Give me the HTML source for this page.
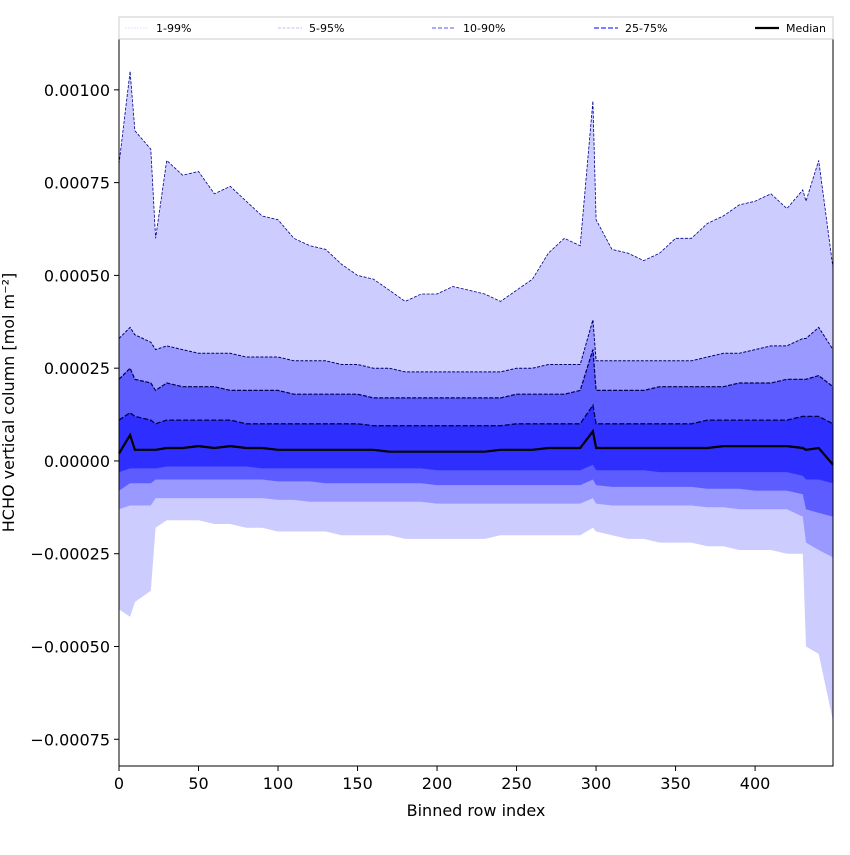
<!DOCTYPE html>
<html><head><meta charset="utf-8"><style>
body{margin:0;background:#fff;}
svg text{font-family:"DejaVu Sans","Liberation Sans",sans-serif;}
</style></head><body>
<svg id="chart" width="850" height="850" xmlns="http://www.w3.org/2000/svg">
<g id="bands"></g>
<g id="lines"></g>
<g id="axes"></g>
<g id="legend"></g>
</svg>
<script>
// Data (values in units of 1e-5 mol m^-2)
const rows=[0,7,10,20,23,30,40,50,60,70,80,90,100,110,120,130,140,150,160,170,180,190,200,210,220,230,240,250,260,270,280,290,298,300,310,320,330,340,350,360,370,380,390,400,410,420,430,432,440,449];
const p99=[80,105,89,84,60,81,77,78,72,74,70,66,65,60,58,57,53,50,49,46,43,45,45,47,46,45,43,46,49,56,60,58,97,65,57,56,54,56,60,60,64,66,69,70,72,68,73,70,81,52];
const p95=[33,36,34,32,30,31,30,29,29,29,28,28,28,27,27,27,26,26,25,25,24,24,24,24,24,24,24,25,25,26,26,26,38,27,27,27,27,27,27,27,28,29,29,30,31,31,33,33,36,30];
const p90=[22,25,22,21,19,21,20,20,20,19,19,19,19,18,18,18,18,18,17,17,17,17,17,17,17,17,17,18,18,18,18,19,30,19,19,19,19,20,20,20,20,20,21,21,21,22,22,22,23,20];
const p75=[11,13,12,11,10,11,11,11,11,11,10,10,10,10,10,10,10,10,9.5,9.5,9.5,9.5,9.5,9.5,9.5,9.5,9.5,10,10,10,10,10,15,10,10,10,10,10,10,10,11,11,11,11,11,11,12,12,12,10];
const p50=[2,7,3,3,3,3.5,3.5,4,3.5,4,3.5,3.5,3,3,3,3,3,3,3,2.5,2.5,2.5,2.5,2.5,2.5,2.5,3,3,3,3.5,3.5,3.5,8,3.5,3.5,3.5,3.5,3.5,3.5,3.5,3.5,4,4,4,4,4,3.5,3,3.5,-1];
const p25=[-3,-2,-2,-2,-2,-1.5,-1.5,-1.5,-1.5,-1.5,-1.5,-2,-2,-2,-2,-2,-2,-2,-2,-2,-2,-2,-2.5,-2.5,-2.5,-2.5,-2.5,-2.5,-2.5,-2.5,-2.5,-2.5,-1,-2.5,-2.5,-2.5,-2.5,-3,-3,-3,-3,-3,-3,-3,-3,-3,-4,-5,-5,-6];
const p10=[-8,-6,-6,-6,-5,-5,-5,-5,-5,-5,-5,-5,-5.5,-5.5,-5.5,-6,-6,-6,-6,-6,-6,-6,-6.5,-6.5,-6.5,-6.5,-6.5,-6.5,-6.5,-6.5,-6.5,-6.5,-5,-6.5,-7,-7,-7,-7,-7,-7,-7.5,-7.5,-7.5,-8,-8,-8,-9,-13,-14,-15];
const p5=[-13,-12,-12,-12,-10,-10,-10,-10,-10,-10,-10,-10,-10.5,-10.5,-11,-11,-11,-11,-11,-11,-11,-11,-11.5,-11.5,-11.5,-11.5,-11.5,-11.5,-11.5,-11.5,-11.5,-11.5,-10,-11.5,-12,-12,-12,-12,-12,-12,-12.5,-12.5,-13,-13,-13,-13,-15,-22,-24,-26];
const p1=[-40,-42,-38,-35,-18,-16,-16,-16,-17,-17,-18,-18,-19,-19,-19,-19,-20,-20,-20,-20,-21,-21,-21,-21,-21,-21,-20,-20,-20,-20,-20,-20,-18,-19,-20,-21,-21,-22,-22,-22,-23,-23,-24,-24,-24,-25,-25,-50,-52,-70];
const xTicks=[0,50,100,150,200,250,300,350,400];
const yTicks=[-0.00075,-0.0005,-0.00025,0,0.00025,0.0005,0.00075,0.001];
const yTickLabels=["\u22120.00075","\u22120.00050","\u22120.00025","0.00000","0.00025","0.00050","0.00075","0.00100"];
const legendLabels=["1-99%","5-95%","10-90%","25-75%","Median"];

const L=119,R=833,T=39,B=766;
const xMin=0,xMax=449,yMin=-0.000822,yMax=0.001137;
const sx=v=>L+(v-xMin)/(xMax-xMin)*(R-L);
const sy=v=>B-(v-yMin)/(yMax-yMin)*(B-T);
const val=v=>v*1e-5;
const NS="http://www.w3.org/2000/svg";
function mk(tag,parent,attrs){const e=document.createElementNS(NS,tag);for(const k in attrs)e.setAttribute(k,attrs[k]);parent.appendChild(e);return e;}
function linePts(arr){return rows.map((r,i)=>sx(r).toFixed(1)+","+sy(val(arr[i])).toFixed(1));}
function band(lo,hi,color,name){
  const pts=linePts(hi).concat(linePts(lo).reverse());
  const p=mk("polygon",document.getElementById("bands"),{points:pts.join(" "),fill:color,stroke:"none"});
  
  
}
band(p1,p99,"#ccccff","band-1-99");
band(p5,p95,"#9999ff","band-5-95");
band(p10,p90,"#5c5cff","band-10-90");
band(p25,p75,"#2e2eff","band-25-75");
function line(arr,color,w,dash,name){
  const p=mk("polyline",document.getElementById("lines"),{points:linePts(arr).join(" "),fill:"none",stroke:color,"stroke-width":w,"stroke-dasharray":dash});
  
  
}
line(p99,"#00008b",0.8,"3,1.5","line-p99");
line(p95,"#00006b",1,"3,1.5","line-p95");
line(p90,"#000050",1.2,"4,1.5","line-p90");
line(p75,"#000040",1.3,"5,2","line-p75");
line(p50,"#000000",2.2,"","line-median");

const ax=document.getElementById("axes");
const frame=mk("rect",ax,{x:L,y:T,width:R-L,height:B-T,fill:"none",stroke:"#000","stroke-width":1});


xTicks.forEach(t=>{
  const x=sx(t);
  mk("line",ax,{x1:x,x2:x,y1:B,y2:B+5,stroke:"#000"});
  const tx=mk("text",ax,{x:x,y:B+23,"text-anchor":"middle","font-size":"16"});
  tx.textContent=t;
  
  
});
yTicks.forEach((t,i)=>{
  const y=sy(t);
  mk("line",ax,{x1:L-5,x2:L,y1:y,y2:y,stroke:"#000"});
  const tx=mk("text",ax,{x:L-9,y:y+6,"text-anchor":"end","font-size":"16"});
  tx.textContent=yTickLabels[i];
  
  
});
const xl=mk("text",ax,{x:(L+R)/2,y:816,"text-anchor":"middle","font-size":"16"});
xl.textContent="Binned row index";


const yl=mk("text",ax,{x:14,y:(T+B)/2,"text-anchor":"middle","font-size":"16",transform:"rotate(-90 14 "+((T+B)/2)+")"});
yl.textContent="HCHO vertical column [mol m\u207b\u00b2]";



const lg=document.getElementById("legend");
const box=mk("rect",lg,{x:119,y:17,width:714,height:22,fill:"#fff",stroke:"#ccc","stroke-width":1});


const lgX=[125,278,432,594,755];
const lgCol=["#ddddff","#aaaaff","#7777ff","#5555ff","#000"];
const lgW=[0.8,0.8,1.2,1.5,2.2];
const lgDash=["2,1","3,1.5","4,2","5,2",""];
legendLabels.forEach((lab,i)=>{
  const g=mk("g",lg,{});
  
  
  mk("line",g,{x1:lgX[i],x2:lgX[i]+24,y1:28,y2:28,stroke:lgCol[i],"stroke-width":lgW[i],"stroke-dasharray":lgDash[i]});
  const t=mk("text",g,{x:lgX[i]+31,y:32,"font-size":"11"});
  t.textContent=lab;
});
</script>
</body></html>
